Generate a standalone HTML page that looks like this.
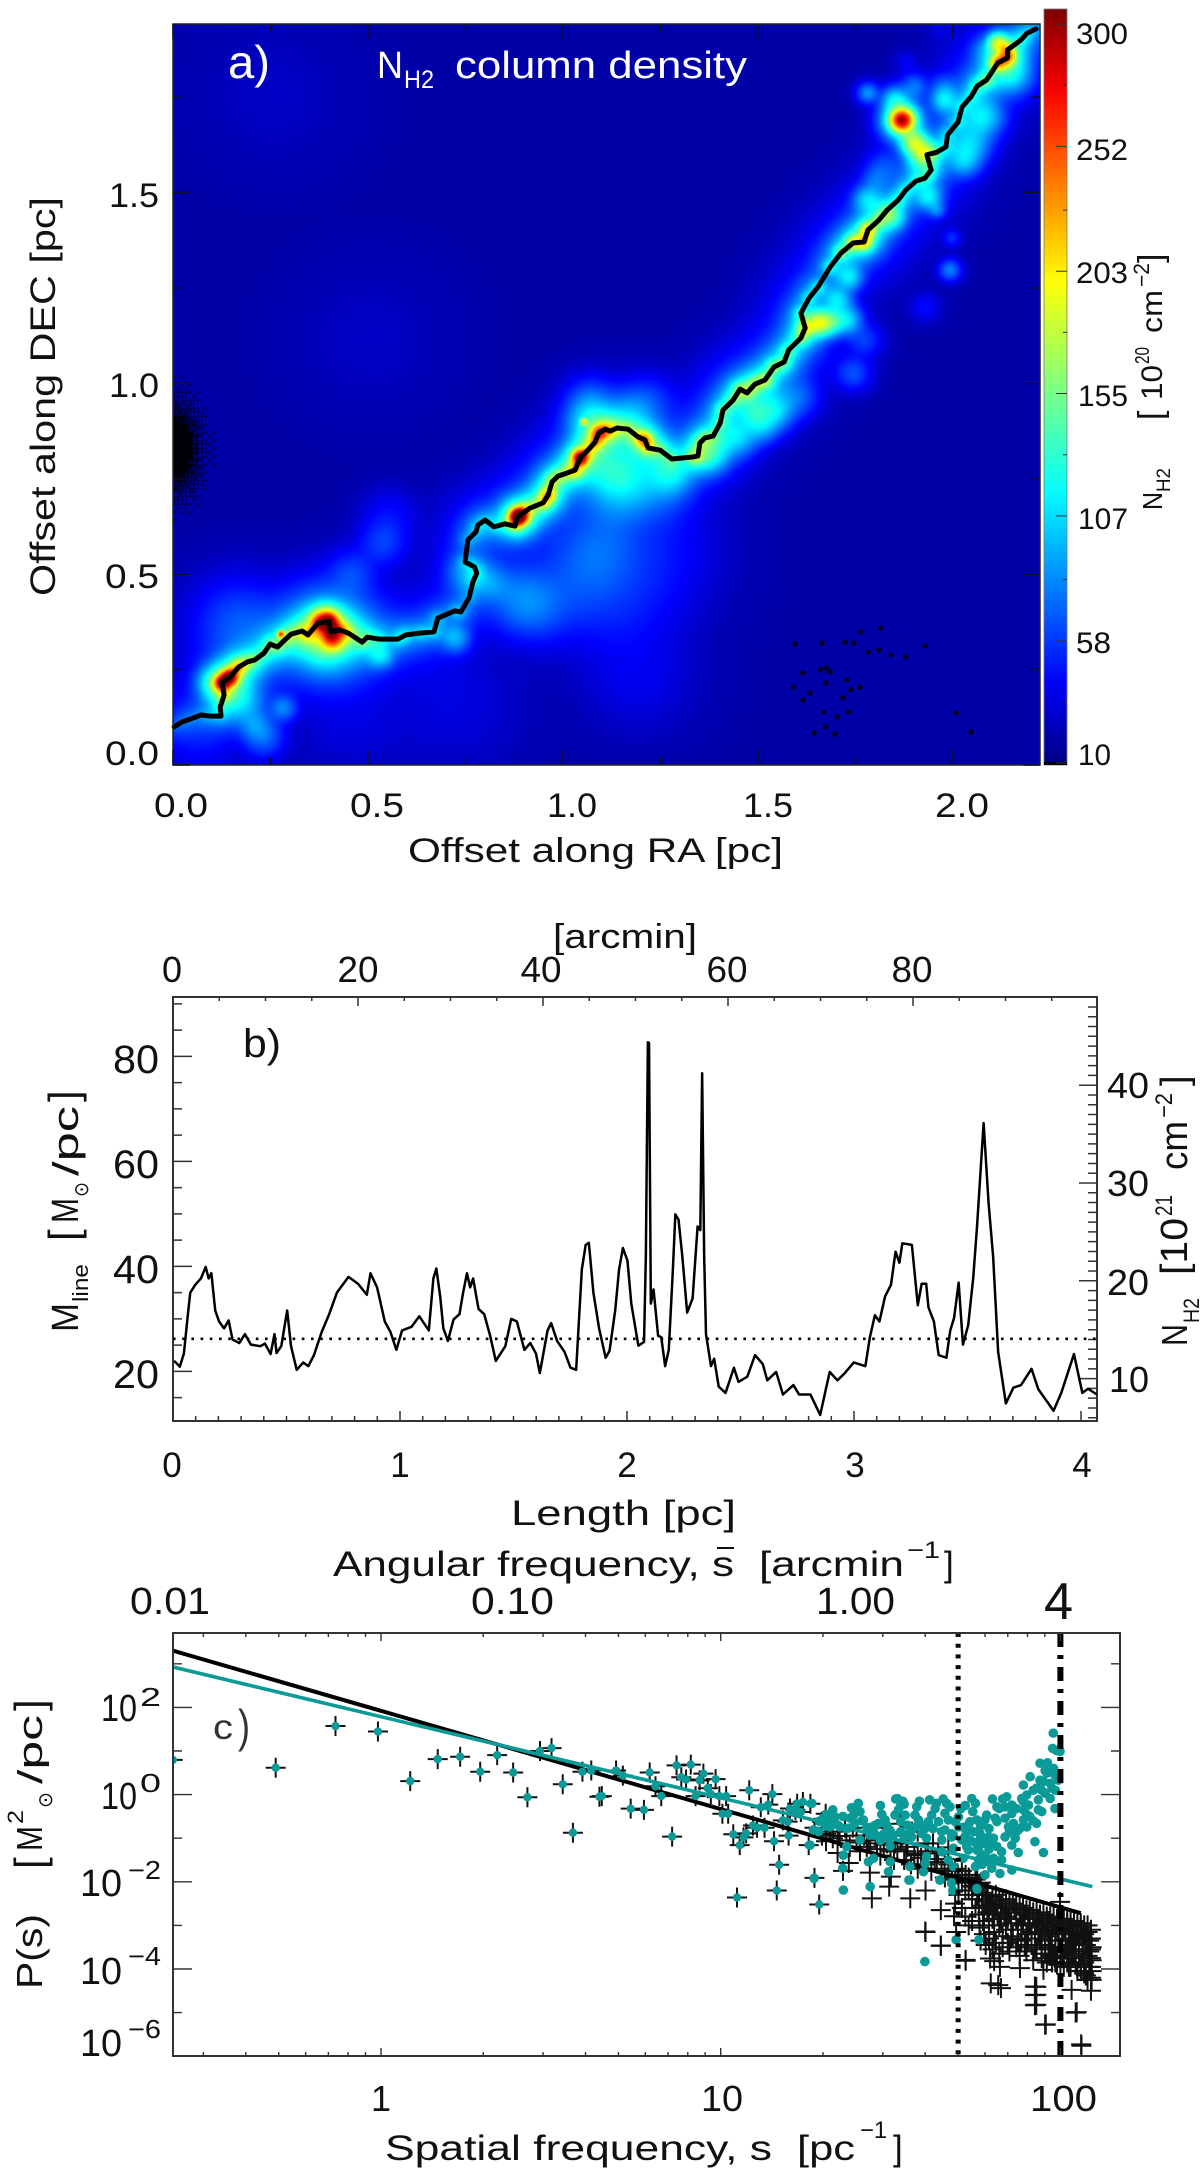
<!DOCTYPE html>
<html lang="en">
<head>
<meta charset="utf-8">
<title>Filament column density, line mass and power spectrum</title>
<style>
html,body{margin:0;padding:0;background:#fff;}
#page{position:relative;width:1200px;height:2177px;overflow:hidden;background:#fff;}
#map{position:absolute;left:173px;top:24px;width:867px;height:741px;display:block;}
#chart{position:absolute;left:0;top:0;}
text{font-family:"Liberation Sans","DejaVu Sans",sans-serif;fill:#111;}
</style>
</head>
<body>
<div id="page">
<canvas id="map" width="434" height="371"></canvas>
<svg id="chart" width="1200" height="2177" viewBox="0 0 1200 2177">
<defs>
<linearGradient id="jet" x1="0" y1="1" x2="0" y2="0">
<stop offset="0" stop-color="#00007f"/><stop offset="0.11" stop-color="#0000ff"/><stop offset="0.36" stop-color="#00ffff"/><stop offset="0.64" stop-color="#ffff00"/><stop offset="0.89" stop-color="#ff0000"/><stop offset="1" stop-color="#7f0000"/>
</linearGradient>
<clipPath id="clipC"><rect x="173" y="1633" width="947" height="423"/></clipPath>
<clipPath id="clipB"><rect x="173" y="997" width="924" height="424"/></clipPath>
</defs>

<!-- panel a text -->
<g>
<text x="228" y="78" font-size="46" fill="#fff" style="fill:#fff" textLength="42">a)</text>
<text x="377" y="78" font-size="38" style="fill:#fff" textLength="26">N</text>
<text x="404" y="88" font-size="25" style="fill:#fff" textLength="30">H2</text>
<text x="455" y="78" font-size="38" style="fill:#fff" textLength="292">column density</text>
<text x="159" y="207" font-size="34" text-anchor="end" textLength="50">1.5</text>
<text x="159" y="397" font-size="34" text-anchor="end" textLength="50">1.0</text>
<text x="159" y="588" font-size="34" text-anchor="end" textLength="54">0.5</text>
<text x="159" y="765" font-size="34" text-anchor="end" textLength="54">0.0</text>
<text x="154" y="817" font-size="34" textLength="54">0.0</text>
<text x="350" y="817" font-size="34" textLength="54">0.5</text>
<text x="547" y="817" font-size="34" textLength="50">1.0</text>
<text x="743" y="817" font-size="34" textLength="50">1.5</text>
<text x="935" y="817" font-size="34" textLength="54">2.0</text>
<text x="408" y="862" font-size="34" textLength="375">Offset along RA [pc]</text>
<text transform="translate(55,596) rotate(-90)" font-size="35" textLength="399">Offset along DEC [pc]</text>
<text x="1076" y="44" font-size="30" textLength="52">300</text>
<text x="1076" y="160" font-size="30" textLength="52">252</text>
<text x="1076" y="283" font-size="30" textLength="52">203</text>
<text x="1078" y="406" font-size="30" textLength="50">155</text>
<text x="1078" y="529" font-size="30" textLength="50">107</text>
<text x="1076" y="653" font-size="30" textLength="35">58</text>
<text x="1078" y="765" font-size="30" textLength="33">10</text>
<g>
<text transform="translate(1162,510) rotate(-90)" font-size="28" textLength="18">N</text>
<text transform="translate(1170,492) rotate(-90)" font-size="19" textLength="24">H2</text>
<text transform="translate(1162,420) rotate(-90)" font-size="34">[</text>
<text transform="translate(1162,400) rotate(-90)" font-size="30" textLength="35">10</text>
<text transform="translate(1149,364) rotate(-90)" font-size="20" textLength="17">20</text>
<text transform="translate(1162,333) rotate(-90)" font-size="30" textLength="43">cm</text>
<text transform="translate(1149,287) rotate(-90)" font-size="22" textLength="24">−2</text>
<text transform="translate(1162,263) rotate(-90)" font-size="34">]</text>
</g>
</g>

<!-- panel b text -->
<g>
<text x="243" y="1057" font-size="40" textLength="38">b)</text>
<text x="553" y="948" font-size="34" textLength="144">[arcmin]</text>
<text x="172" y="982" font-size="36" text-anchor="middle">0</text>
<text x="358" y="982" font-size="36" text-anchor="middle" textLength="41">20</text>
<text x="541" y="982" font-size="36" text-anchor="middle" textLength="41">40</text>
<text x="727" y="982" font-size="36" text-anchor="middle" textLength="41">60</text>
<text x="912" y="982" font-size="36" text-anchor="middle" textLength="41">80</text>
<text x="159" y="1073" font-size="40" text-anchor="end" textLength="46">80</text>
<text x="159" y="1178" font-size="40" text-anchor="end" textLength="46">60</text>
<text x="159" y="1283" font-size="40" text-anchor="end" textLength="46">40</text>
<text x="159" y="1388" font-size="40" text-anchor="end" textLength="46">20</text>
<text x="1107" y="1098" font-size="36" textLength="42">40</text>
<text x="1107" y="1196" font-size="36" textLength="42">30</text>
<text x="1107" y="1295" font-size="36" textLength="42">20</text>
<text x="1109" y="1392" font-size="36" textLength="40">10</text>
<text x="172" y="1477" font-size="35" text-anchor="middle">0</text>
<text x="400" y="1477" font-size="35" text-anchor="middle">1</text>
<text x="627" y="1477" font-size="35" text-anchor="middle">2</text>
<text x="855" y="1477" font-size="35" text-anchor="middle">3</text>
<text x="1082" y="1477" font-size="35" text-anchor="middle">4</text>
<text x="511" y="1525" font-size="35" textLength="225">Length [pc]</text>
<g>
<text transform="translate(78,1332) rotate(-90)" font-size="38" textLength="29">M</text>
<text transform="translate(88,1302) rotate(-90)" font-size="22" textLength="38">line</text>
<text transform="translate(78,1241) rotate(-90)" font-size="42">[</text>
<text transform="translate(78,1223) rotate(-90)" font-size="38" textLength="25">M</text>
<text transform="translate(88,1197) rotate(-90)" font-size="20" textLength="15">⊙</text>
<text transform="translate(78,1176) rotate(-90)" font-size="36" textLength="70">/pc</text>
<text transform="translate(78,1102) rotate(-90)" font-size="42">]</text>
</g>
<g>
<text transform="translate(1187,1346) rotate(-90)" font-size="36" textLength="22">N</text>
<text transform="translate(1199,1323) rotate(-90)" font-size="22" textLength="25">H2</text>
<text transform="translate(1187,1275) rotate(-90)" font-size="38" textLength="57">[10</text>
<text transform="translate(1172,1216) rotate(-90)" font-size="24" textLength="21">21</text>
<text transform="translate(1187,1170) rotate(-90)" font-size="38" textLength="49">cm</text>
<text transform="translate(1172,1118) rotate(-90)" font-size="24" textLength="25">−2</text>
<text transform="translate(1187,1086) rotate(-90)" font-size="38">]</text>
</g>
</g>

<!-- panel c text -->
<g>
<text x="333" y="1576" font-size="35" textLength="401">Angular frequency, s</text>
<line x1="717" y1="1548" x2="734" y2="1548" stroke="#111" stroke-width="2"/>
<text x="759" y="1576" font-size="35" textLength="145">[arcmin</text>
<text x="907" y="1558" font-size="24" textLength="33">−1</text>
<text x="944" y="1576" font-size="35">]</text>
<text x="130" y="1614" font-size="38" textLength="80">0.01</text>
<text x="471" y="1614" font-size="38" textLength="83">0.10</text>
<text x="816" y="1614" font-size="38" textLength="79">1.00</text>
<text x="1044" y="1619" font-size="52" textLength="29">4</text>
<text x="213" y="1739" font-size="35" style="fill:#333" textLength="20">c</text>
<text x="238" y="1742" font-size="46" style="fill:#333" textLength="12">)</text>
<g>
<text x="101" y="1721" font-size="38" textLength="36">10</text><text x="140" y="1706" font-size="26" textLength="21">2</text>
<text x="101" y="1809" font-size="38" textLength="36">10</text><text x="140" y="1792" font-size="26" textLength="21">0</text>
<text x="80" y="1896" font-size="38" textLength="42">10</text><text x="128" y="1879" font-size="26" textLength="33">−2</text>
<text x="80" y="1984" font-size="38" textLength="42">10</text><text x="128" y="1965" font-size="26" textLength="33">−4</text>
<text x="80" y="2056" font-size="38" textLength="42">10</text><text x="128" y="2038" font-size="26" textLength="33">−6</text>
</g>
<text x="381" y="2111" font-size="36" text-anchor="middle">1</text>
<text x="701" y="2111" font-size="36" textLength="42">10</text>
<text x="1030" y="2111" font-size="36" textLength="67">100</text>
<text x="385" y="2160" font-size="35" textLength="387">Spatial frequency, s</text>
<text x="797" y="2160" font-size="35" textLength="58">[pc</text>
<text x="860" y="2138" font-size="24" textLength="27">−1</text>
<text x="893" y="2160" font-size="35">]</text>
<g>
<text transform="translate(42,1989) rotate(-90)" font-size="36" textLength="75">P(s)</text>
<text transform="translate(44,1869) rotate(-90)" font-size="42">[</text>
<text transform="translate(42,1851) rotate(-90)" font-size="36" textLength="25">M</text>
<text transform="translate(23,1824) rotate(-90)" font-size="22" textLength="14">2</text>
<text transform="translate(52,1808) rotate(-90)" font-size="20" textLength="16">⊙</text>
<text transform="translate(42,1784) rotate(-90)" font-size="34" textLength="69">/pc</text>
<text transform="translate(44,1711) rotate(-90)" font-size="42">]</text>
</g>
</g>
<g id="marks"></g>
</svg>
</div>
<script>
// ---------- Panel a: filament spine and column density model (pc, 1e20 cm^-2) ----------
const filamentRA=[.003,.023,.046,.072,.096,.123,.121,.131,.126,.146,.169,.190,.209,.233,.249,.268,.287,.303,.331,.346,.372,.400,.405,.426,.449,.485,.498,.528,.577,.597,.636,.669,.679,.723,.738,.759,.769,.779,.773,.749,.756,.777,.782,.800,.823,.851,.877,.882,.890,.915,.949,.962,.972,.987,1.010,1.031,1.044,1.064,1.082,1.092,1.108,1.121,1.138,1.167,1.192,1.210,1.218,1.249,1.279,1.333,1.346,1.351,1.364,1.385,1.403,1.410,1.436,1.454,1.472,1.492,1.518,1.541,1.567,1.579,1.610,1.621,1.610,1.631,1.654,1.685,1.713,1.744,1.772,1.782,1.810,1.831,1.860,1.879,1.905,1.928,1.944,1.933,1.959,1.982,1.986,2.013,2.023,2.046,2.062,2.086,2.115,2.140,2.140,2.174,2.190,2.213];
const filamentDec=[.100,.113,.121,.131,.128,.128,.152,.183,.215,.231,.257,.270,.275,.293,.317,.309,.328,.343,.351,.341,.372,.375,.349,.354,.346,.322,.335,.330,.330,.341,.346,.349,.385,.404,.401,.438,.480,.503,.519,.532,.590,.611,.629,.642,.624,.632,.626,.647,.655,.673,.687,.708,.742,.757,.765,.773,.805,.825,.846,.870,.880,.875,.883,.880,.860,.852,.831,.825,.802,.807,.810,.844,.857,.862,.896,.930,.956,.985,.975,.998,1.009,1.043,1.056,1.088,1.119,1.145,1.184,1.224,1.253,1.305,1.342,1.368,1.371,1.402,1.428,1.454,1.481,1.507,1.530,1.538,1.559,1.599,1.606,1.620,1.651,1.685,1.724,1.751,1.779,1.795,1.840,1.853,1.874,1.900,1.918,1.929];
const filamentPeak=[70,70,75,75,85,90,110,200,300,310,240,170,150,140,150,150,160,170,175,190,240,280,250,220,190,150,140,130,125,125,125,120,110,100,95,95,100,105,100,100,100,100,100,100,100,110,150,290,310,190,220,250,200,170,170,230,310,200,230,260,210,180,170,170,200,250,210,170,150,170,175,150,150,150,160,175,175,185,190,200,215,190,170,170,190,225,150,140,140,150,190,225,245,245,190,170,150,130,130,140,140,170,120,110,120,130,130,130,150,190,260,250,230,130,110,95];
const blobRA=[.172,.282,.233,.210,.164,.105,.276,.390,.403,.410,.390,.459,.538,.556,.723,.531,.749,.813,.882,.931,1.087,1.121,1.172,1.274,1.377,1.446,1.538,1.487,1.600,1.249,1.128,1.069,1.069,1.054,1.223,1.172,1.654,1.685,1.703,1.733,1.841,1.938,1.959,1.997,1.992,1.928,1.744,1.772,1.728,1.508,1.869,1.869,1.900,1.928,1.851,1.782,1.900,1.977,1.977,1.879,1.964,2.077,2.046,2.028,2.115,2.077,1.800,1.782,1.821,1.910,2.151,.262,.505,.710,1.192,.454,1.223,1.146,1.028,.069];
const blobDec=[.170,.149,.073,.105,.372,.215,.343,.328,.341,.328,.380,.503,.582,.650,.333,.288,.498,.477,.440,.414,.563,.773,.747,.765,.818,.860,.930,.922,.964,.713,.687,.904,.956,.899,.956,.917,1.158,1.161,1.219,1.279,1.436,1.488,1.454,1.381,1.297,1.200,1.027,1.114,1.166,.886,1.690,1.690,1.630,1.604,1.743,1.761,1.777,1.777,1.743,1.840,1.926,1.698,1.630,1.585,1.892,1.874,1.533,1.481,1.567,1.578,1.808,1.756,1.115,.170,.231,.118,.563,.432,.477,.066];
const blobAmp=[80,60,50,55,45,80,220,110,80,170,170,40,40,25,70,80,50,55,50,45,45,85,70,85,95,80,90,80,50,40,45,80,45,170,35,60,150,110,85,85,100,85,55,35,60,25,45,40,85,65,250,130,150,120,85,65,55,45,85,20,15,85,75,75,150,45,45,80,40,70,80,8,8,15,18,15,28,28,38,22];
const blobWidth=[.036,.021,.031,.026,.065,.026,.008,.042,.073,.018,.021,.036,.036,.039,.023,.021,.031,.031,.052,.052,.065,.047,.052,.036,.031,.031,.031,.026,.031,.052,.057,.036,.036,.008,.039,.039,.021,.021,.023,.021,.021,.021,.013,.013,.016,.021,.026,.026,.023,.026,.018,.031,.021,.021,.021,.016,.021,.021,.021,.016,.016,.031,.031,.026,.016,.021,.021,.023,.026,.021,.031,.104,.104,.104,.078,.078,.091,.091,.078,.052];
const blobSoftening=1.4;
const speckRA=[.008];
const speckDec=[.83];
const speckWidthRA=[.04];
const speckWidthDec=[.075];
const speckDensity=[1.5];
const noiseRA=[1.595,1.674,1.659,1.685,1.728,1.762,1.738,1.782,1.615,1.674,1.633,1.59,1.669,1.674,1.644,1.697,1.718,1.723,1.746,1.81,1.928,1.762,1.815,1.664,1.703,1.733,1.615,1.879,1.841,2.046,2.008];
const noiseDec=[.317,.254,.249,.244,.223,.204,.197,.296,.241,.215,.189,.204,.139,.1,.084,.081,.176,.322,.32,.301,.312,.349,.359,.32,.126,.139,.17,.283,.288,.086,.136];
const backgroundLevel=20;

// ---------- Panel a ticks ----------
const mapXMajor=[0,.5,1,1.5,2];
const mapXMinor=[.25,.75,1.25,1.75];
const mapYMajor=[0,.5,1,1.5];
const mapYMinor=[.25,.75,1.25,1.75];
const colorbarMajor=[10,58,107,155,203,252,300];
const colorbarMinor=[34,82,131,179,227,276];

// ---------- Panel b: line mass profile ----------
const lengthPc=[.005,.03,.048,.064,.076,.098,.123,.144,.157,.169,.186,.203,.225,.245,.262,.292,.317,.343,.385,.405,.43,.447,.456,.477,.503,.52,.545,.574,.596,.621,.655,.688,.722,.773,.815,.854,.87,.899,.933,.958,.984,1.009,1.051,1.085,1.127,1.147,1.16,1.177,1.191,1.211,1.236,1.262,1.278,1.295,1.309,1.322,1.346,1.371,1.397,1.422,1.464,1.49,1.515,1.548,1.574,1.599,1.616,1.65,1.666,1.692,1.725,1.751,1.776,1.801,1.818,1.832,1.852,1.877,1.906,1.923,1.948,1.965,1.982,2.002,2.019,2.05,2.075,2.083,2.092,2.097,2.105,2.117,2.137,2.151,2.168,2.184,2.201,2.213,2.227,2.244,2.265,2.289,2.311,2.323,2.331,2.34,2.348,2.37,2.384,2.404,2.434,2.471,2.491,2.53,2.564,2.598,2.618,2.657,2.687,2.733,2.758,2.808,2.851,2.876,2.893,2.927,2.96,2.999,3.05,3.07,3.092,3.112,3.137,3.163,3.183,3.2,3.213,3.255,3.281,3.298,3.318,3.328,3.352,3.373,3.407,3.424,3.441,3.461,3.48,3.503,3.525,3.542,3.571,3.593,3.613,3.635,3.669,3.702,3.736,3.782,3.812,3.879,3.913,3.969,4.006,4.031,4.07];
const massLine=[22,20.9,23.4,30.2,35,36.5,37.7,39.9,37.7,38.7,31.6,29.5,28.2,29.7,26.1,25.4,27.1,25.1,24.8,25.3,23.3,27.1,23.5,24.8,31.6,24.8,20.3,21.7,21,23.1,27.5,30.9,35,38,36.7,34.6,38.7,36,29.5,27.5,24.1,27.8,28.5,30.5,27.8,37.7,39.6,34.3,28.2,25.8,29.9,30.9,35,38.7,36,37.7,31.9,30.9,26.8,22,24.8,30,29.5,24.1,25.4,23.4,19.7,27.8,29.2,25.8,23.7,20.7,20.3,39.4,44.1,44.5,35,28.2,22.6,23.9,31.6,39.4,43.5,41.1,32.9,24.9,25.6,41.8,82.7,82.6,32.9,35.6,26.8,26.5,21,24.1,38.4,49.9,48.9,41.8,31.2,33.9,47.6,46.9,76.8,41.8,27.1,21,22.4,17.1,15.9,20.7,18,19,23.1,21.4,18.3,19.9,15.6,17.4,15.6,15.6,11.7,16.6,19.9,18.3,19.7,21.7,21,26.5,30.7,29.5,34.3,36.5,42.8,40.7,44.4,44.1,32.6,36.7,36.7,32.2,29.5,23.1,22.6,27.8,30.2,36.9,25.1,28.8,37.7,47.6,67.3,52,41.8,23.7,13.9,16.9,17.4,20.5,16.6,12.5,15.9,23.3,15.9,16.7,15.6];
const criticalMass=[26.2];

// ---------- Panel c: power spectrum (log10 s, log10 P) ----------
const sharedLogS=[-.613,-.31,-.134,-.009,.086,.167,.233,.292,.342,.389,.431,.468,.502,.535,.565,.593,.619,.643,.65,.692,.712,.735,.774,.791,.808,.825,.857,.870,.884,.898,.912,.926,.938,.949,.962,.971,.985,.996,1.016,1.005,1.022,1.037,1.048,1.056,1.067,1.075,1.084,1.095,1.107,1.118,1.129,1.14,1.152,1.157,1.165,1.172,1.183,1.197,1.2,1.204,1.22,1.225,1.236,1.242,1.259,1.264,1.276,1.29,1.298,1.309];
const sharedLogP=[.796,.616,1.572,1.446,.309,.814,.868,.525,.905,.507,-.061,1.0,1.067,.237,-.874,.525,.553,-.05,-.034,.552,.435,-.323,-.35,.507,.191,-.034,-.964,.67,.399,.345,.688,-.034,.327,.48,.146,.011,.354,-.034,-.034,-.44,-.44,-.91,-2.36,-1.16,-.98,-.89,.10,-.71,-.76,-.29,-.76,-.23,.01,-1.07,-2.2,-1.61,-.59,-.62,-.94,-.32,-.35,-.21,-.4,-.17,-1.16,-.21,-1.91,-2.52,-.62,-.44];
const crossLogS=[1.31,1.344,1.36,1.377,1.439,1.445,1.496,1.501,1.558,1.603,1.648,1.687,1.693,1.603,1.648,1.721,1.817,1.805,1.929,1.929,1.929,1.957,2.048,2.062,1.276,1.298,1.321,1.344,1.366,1.389,1.40,1.422,1.434,1.456,1.479,1.49,1.513,1.529,1.535,1.546,1.563,1.58,1.58,1.603,1.625,1.636,1.659,1.67,1.681,1.698,1.71,1.721,1.732,1.743,1.755,1.766,1.72,1.73,1.74,1.71,1.72,1.69,1.70,1.75,1.75,1.74,1.73,1.76,1.602,1.648,1.721,1.795,1.825,1.925,1.925,1.925,1.955,2.045,2.061,2.033,2.09,1.793,1.822,1.881,1.95,1.999,1.76,1.76,1.762,1.765,1.77,1.772,1.775,1.78,1.78,1.785,1.79,1.79,1.795,1.80,1.80,1.805,1.81,1.81,1.815,1.82,1.82,1.825,1.83,1.83,1.835,1.84,1.84,1.845,1.85,1.85,1.855,1.86,1.865,1.87,1.87,1.875,1.88,1.88,1.885,1.89,1.895,1.90,1.90,1.905,1.91,1.915,1.92,1.92,1.925,1.93,1.93,1.935,1.94,1.945,1.945,1.95,1.955,1.955,1.96,1.965,1.965,1.97,1.975,1.975,1.98,1.985,1.985,1.99,1.99,1.995,2.0,2.0,2.005,2.005,2.01,2.01,2.015,2.02,2.02,2.025,2.025,2.03,2.03,2.035,2.04,2.04,2.045,2.045,2.05,2.05,2.055,2.055,2.06,2.06,2.065,2.065,2.07,2.07,2.075,2.075,2.08,2.08,2.085,2.085,2.09,2.09,2.09,2.092,2.092,2.092,2.092];
const crossLogP=[-1.07,-1.34,-1.75,-1.57,-1.79,-2.38,-2.11,-1.88,-2.38,-2.2,-2.65,-2.79,-3.15,-3.15,-3.46,-3.81,-4.37,-3.82,-4.41,-4.82,-4.59,-5.27,-4.99,-5.76,-.76,-.94,-.85,-.85,-.76,-.76,-.94,-.94,-1.12,-.94,-.76,-1.12,-1.12,-.67,-.94,-1.3,-.85,-.85,-1.39,-1.12,-1.12,-1.48,-1.48,-1.21,-1.75,-1.84,-2.02,-1.84,-1.93,-2.11,-1.84,-2.02,-2.0,-2.2,-2.4,-2.6,-2.8,-2.5,-2.3,-2.1,-2.6,-2.9,-3.0,-2.2,-3.14,-3.47,-3.79,-4.33,-4.44,-4.4,-4.6,-4.83,-5.28,-5.0,-5.73,-4.48,-4.5,-3.76,-3.95,-3.98,-4.02,-2.46,-2.40,-2.75,-3.05,-3.35,-2.55,-2.9,-3.2,-2.45,-3.45,-2.7,-3.0,-3.3,-2.5,-2.85,-3.55,-3.15,-2.55,-3.4,-2.75,-3.0,-3.65,-2.6,-3.25,-3.5,-2.8,-2.6,-3.1,-3.4,-2.7,-3.6,-2.95,-3.25,-2.65,-3.5,-2.85,-3.1,-2.7,-3.7,-3.35,-2.95,-2.75,-3.2,-3.6,-2.85,-3.0,-3.45,-2.8,-3.8,-3.15,-2.95,-3.55,-2.85,-3.3,-3.05,-3.75,-2.9,-3.45,-3.2,-3.0,-3.65,-2.9,-3.35,-3.1,-3.85,-2.95,-3.5,-3.2,-3.0,-3.7,-3.35,-2.95,-3.9,-3.15,-3.55,-3.05,-3.75,-3.3,-2.95,-3.6,-3.2,-3.95,-3.0,-3.45,-3.7,-3.1,-3.3,-3.9,-3.55,-2.95,-3.2,-3.75,-3.4,-3.05,-4.05,-3.6,-3.25,-3.85,-3.0,-3.45,-4.15,-3.15,-3.7,-3.95,-3.35,-3.55,-4.2,-3.1,-3.8,-4.05,-3.5,-4.25];
const crossMidLogS=[1.31,1.33,1.35,1.37,1.38,1.40,1.41,1.43,1.44,1.46,1.47,1.48,1.50,1.51,1.52,1.53,1.54,1.55,1.56,1.57,1.58,1.59,1.60,1.61,1.62,1.63,1.64,1.65,1.66,1.67,1.68,1.69,1.70,1.71,1.72,1.73,1.74,1.75,1.755,1.76];
const crossMidLogP=[-.9,-1.0,-.95,-1.05,-1.2,-1.1,-1.3,-1.2,-1.05,-1.25,-1.4,-1.15,-1.3,-1.5,-1.25,-1.1,-1.5,-1.2,-1.6,-1.35,-1.7,-1.45,-1.6,-1.3,-1.75,-1.55,-1.35,-1.7,-1.9,-1.6,-1.95,-1.7,-2.0,-1.75,-2.2,-1.9,-2.1,-1.95,-2.3,-2.05];
const crossTailLogS=[1.76,1.77,1.775,1.785,1.79,1.80,1.805,1.81,1.82,1.825,1.83,1.84,1.845,1.85,1.855,1.86,1.87,1.875,1.88,1.885,1.89,1.895,1.90,1.905,1.91,1.915,1.92,1.925,1.93,1.935,1.94,1.945,1.95,1.955,1.96,1.965,1.97,1.975,1.98,1.985,1.99,1.995,2.0,2.005,2.01,2.015,2.02,2.025,2.03,2.035,2.04,2.045,2.05,2.055,2.06,2.065,2.07,2.075,2.08,2.085,2.09,2.09,2.09,2.08,2.07,2.06,2.05,2.04,2.03,2.02,2.01,2.0,1.99,1.98,1.97,1.96];
const crossTailLogP=[-2.15,-2.25,-2.75,-2.3,-2.55,-2.35,-2.7,-2.3,-2.4,-2.85,-2.45,-2.4,-2.85,-2.5,-3.3,-2.5,-2.55,-3.35,-2.55,-3.0,-2.6,-3.45,-2.65,-3.3,-2.65,-3.15,-2.7,-3.5,-2.7,-3.2,-2.75,-3.45,-2.75,-3.65,-2.8,-3.25,-2.8,-3.55,-2.8,-3.85,-2.85,-3.15,-2.85,-3.75,-2.85,-3.55,-2.9,-3.45,-2.9,-3.2,-2.9,-3.35,-3.05,-3.6,-2.95,-3.45,-3.2,-3.3,-3.0,-3.6,-3.3,-3.75,-3.95,-4.25,-4.1,-3.9,-4.05,-3.65,-3.95,-3.85,-3.95,-3.6,-3.9,-3.7,-3.7,-3.85];
const dotLogS=[1.268,1.302,1.317,1.33,1.337,1.351,1.322,1.288,1.273,1.263,1.376,1.391,1.40,1.41,1.381,1.42,1.445,1.464,1.474,1.484,1.44,1.41,1.361,1.371,1.359,1.275,1.361,1.435,1.45,1.44,1.499,1.494,1.508,1.52,1.536,1.523,1.543,1.513,1.552,1.562,1.577,1.572,1.582,1.592,1.606,1.631,1.621,1.611,1.641,1.616,1.665,1.66,1.67,1.66,1.651,1.68,1.707,1.70,1.70,1.685,1.739,1.742,1.734,1.724,1.754,1.773,1.783,1.778,1.744,1.763,1.788,1.813,1.808,1.813,1.842,1.857,1.837,1.837,1.857,1.862,1.847,1.862,1.837,1.891,1.891,1.901,1.881,1.867,1.857,1.911,1.891,1.92,1.901,1.886,1.906,1.935,1.945,1.93,1.925,1.95,1.876,1.94,1.962,1.96,1.94,1.97,1.984,1.994,1.955,1.935,1.97,1.984,1.979,1.977,1.989,1.999,1.724,1.729,1.71,1.754,1.778,1.773,1.803,1.813,1.827,1.827,1.803,1.798,1.759,1.778,1.822,1.857,1.685,1.714,1.651,1.606,1.602,1.685,1.67,1.646,1.68,1.754,1.557,1.597,1.499,1.494,1.557,1.693,1.76,1.601,1.554,1.645,1.68,1.683,1.755];
const dotLogP=[-.20,-.54,-.47,-.35,-.51,-.74,-.74,-.85,-.81,-1.16,-.77,-.47,-.29,-.39,-.54,-.58,-.74,-.66,-.45,-.58,-.93,-1.04,-1.39,-1.19,-1.69,-1.92,-2.19,-1.54,-1.46,-2.11,-1.18,-1.0,-.93,-.09,-.15,-.35,-.47,-.47,-.93,-.97,-.28,-.47,-.58,-.89,-1.0,-.32,-.47,-.62,-.62,-.74,-.20,-.43,-.58,-.81,-1.04,-.97,-.32,-.51,-.74,-.93,-.09,-.39,-.62,-.81,-.58,-.62,-.47,-.58,-.85,-.89,-.97,-.28,-.54,-.62,-.05,-.24,-.28,-.54,-.43,-.66,-.74,-.89,-.97,-.35,-.58,-.74,-.77,-1.0,-1.16,.41,.22,.10,-.01,-.09,-.24,-.35,-.39,-.66,-1.08,-1.33,-1.33,.72,.73,.49,.33,.26,.45,.33,.03,-.12,-.09,-.32,1.41,1.06,1.01,.99,-1.19,-1.27,-1.04,-1.27,-1.39,-1.12,-1.0,-1.19,-1.31,-1.50,-1.46,-1.69,-1.50,-1.84,-1.81,-1.73,-1.23,-1.46,-1.31,-1.42,-1.58,-1.65,-1.50,-1.96,-2.04,-2.15,-1.96,-1.77,-1.54,-1.77,-1.65,-3.33,-3.33,-3.83,-1.96,-1.96,-2.02,-2.2,-2.17];
const dotExtraLogS=[1.29,1.31,1.325,1.345,1.36,1.37,1.385,1.395,1.405,1.415,1.43,1.455,1.47,1.49,1.45,1.46,1.47,1.48,1.5,1.515,1.53,1.53,1.54,1.55,1.56,1.53,1.54,1.57,1.585,1.595,1.60,1.615,1.625,1.635,1.65,1.655,1.675,1.68,1.69,1.715,1.72,1.73,1.75,1.765,1.79,1.80,1.82,1.83,1.85,1.87,1.875,1.89,1.90,1.91,1.92,1.93,1.945,1.95,1.955,1.975,1.98,1.985,1.72,1.735,1.75,1.765,1.785,1.79,1.80,1.76,1.77,1.75,1.79];
const dotExtraLogP=[-.61,-.72,-.6,-.7,-.5,-.78,-.3,-.66,-.2,-.6,-.75,-.7,-.25,-.72,-.85,-.95,-1.05,-.9,-.85,-.1,-.25,-.62,-.22,-.7,-.82,-.85,-.95,-.75,-.15,-.72,-.78,-.12,-.78,-.2,-.85,-.1,-.28,-.9,-.62,-.75,-.25,-.68,-.2,-.72,-.78,-.1,-.32,-.1,-.85,-.32,-.82,-.15,-.45,-.5,-.6,.15,.1,.3,.55,.15,.6,.1,-.95,-1.05,-1.1,-.95,-1.1,-1.25,-1.15,-1.3,-1.6,-1.65,-1.55];
const fitLogS=[-.612,2.06];
const fitBlackLogP=[3.30,-2.72];
const fitTealLogS=[-.612,2.094];
const fitTealLogP=[2.926,-2.11];
const beamLimitS=[50];
const resolutionS=[100];
const powerMajorLog=[-6,-4,-2,0,2];
const powerMinorLog=[-5,-3,-1,1,3];
const freqDecades=[-1,0,1,2];
const freqMultipliers=[2,3,4,5,6,7,8,9];

// ---------- Axis functions ----------
const xA=v=>173+390*v, yA=v=>765-381.6*v;
const yCbar=v=>763-(v-10)*2.548;
const xB=v=>173+227*v, yB=v=>1371.4-5.25*(v-20);
const xTopB=v=>173+9.25*v, yRightB=v=>1378.6-9.78*(v-10);
const xC=v=>381+339.7*v, yC=v=>1794.6-43.6*v;

document.querySelectorAll('text[textLength]').forEach(function(t){t.setAttribute('lengthAdjust','spacingAndGlyphs');});

const NS='http://www.w3.org/2000/svg';
const marks=document.getElementById('marks');
function make(tag,attrs,parent){
  const el=document.createElementNS(NS,tag);
  for(const k in attrs) el.setAttribute(k,attrs[k]);
  (parent||marks).appendChild(el);
  return el;
}
function hTicks(vals,fy,len,x0,x1){return vals.map(v=>`M${x0} ${fy(v)}h${len}M${x1} ${fy(v)}h${-len}`).join('');}
function vTicks(vals,fx,len,y0,y1){return vals.map(v=>`M${fx(v)} ${y0}v${-len}M${fx(v)} ${y1}v${len}`).join('');}
function seq(a,b,st){const r=[];for(let i=0;Math.round((a+i*st)*1000)/1000<=b;i++)r.push(Math.round((a+i*st)*1000)/1000);return r;}

// ---------- Panel a heatmap ----------
(function(){
  const cv=document.getElementById('map'),ctx=cv.getContext('2d');
  const w=cv.width,h=cv.height,img=ctx.createImageData(w,h);
  const cx=[],cy=[],ca=[],cs=[];
  filamentRA.forEach((ra,i)=>{
    const pk=filamentPeak[i],amp=pk-backgroundLevel;
    cx.push(ra);cy.push(filamentDec[i]);ca.push(amp*(.6+.3*Math.max(0,(pk-200)/110)));cs.push(.019);
    cx.push(ra);cy.push(filamentDec[i]);ca.push(pk*.3);cs.push(.042);
    cx.push(ra);cy.push(filamentDec[i]);ca.push(Math.min(20,pk*.12));cs.push(.085);
  });
  blobRA.forEach((ra,i)=>{
    cx.push(ra);cy.push(blobDec[i]);ca.push(blobAmp[i]);
    cs.push(blobWidth[i]<.012?blobWidth[i]:blobWidth[i]*blobSoftening);
  });
  const n=cx.length,inv=cs.map(s=>1/(s*s)),lim=cs.map(s=>12*s*s);
  function jet(t){
    const c=(a,b,x)=>Math.max(0,Math.min(1,(x-a)/(b-a)));
    const r=c(.36,.64,t)-c(.89,1.12,t);
    const g=c(.11,.36,t)-c(.64,.89,t);
    const b=Math.min(1,.5+t/.11*.5)-c(.36,.64,t);
    return [255*Math.max(r,0),255*Math.max(g,0),255*Math.max(b,0)];
  }
  const bayer=[[0,8,2,10],[12,4,14,6],[3,11,1,9],[15,7,13,5]];
  const kx=867/w,ky=741/h;
  for(let j=0;j<h;j++){
    const dec=(741-(j+.5)*ky)/381.6;
    for(let i=0;i<w;i++){
      const ra=(i+.5)*kx/390;
      let sum=0;
      for(let c=0;c<n;c++){
        const dx=ra-cx[c],dy=dec-cy[c],d=dx*dx+dy*dy;
        if(d>lim[c])continue;
        sum+=ca[c]*ca[c]*Math.exp(-d*inv[c]);
      }
      const F=backgroundLevel+Math.sqrt(sum);
      const t=Math.min(1,Math.max(0,(F-10)/296));
      let col=jet(t);
      for(let p=0;p<speckRA.length;p++){
        const ax=(ra-speckRA[p])/speckWidthRA[p],ay=(dec-speckDec[p])/speckWidthDec[p];
        const dens=speckDensity[p]*Math.exp(-.5*(ax*ax+ay*ay));
        if(dens>.06&&dens>(bayer[j&3][i&3]+.5)/16*.95+.03)col=[0,0,10];
      }
      const o=(j*w+i)*4;
      img.data[o]=col[0];img.data[o+1]=col[1];img.data[o+2]=col[2];img.data[o+3]=255;
    }
  }
  ctx.putImageData(img,0,0);
})();

// Panel a overlays
noiseRA.forEach(function(v,i){
  const speck=make('circle',{cx:xA(v),cy:yA(noiseDec[i]),r:2.8,fill:'#000028'});
  
  
});
const filamentLine=make('polyline',{points:filamentRA.map((v,i)=>xA(v)+','+yA(filamentDec[i])).join(' '),fill:'none',stroke:'#000','stroke-width':5,'stroke-linejoin':'round','stroke-linecap':'round'});


const mapFrame=make('rect',{x:173,y:24,width:867,height:741,fill:'none',stroke:'#222','stroke-width':1.5});


const mapTicks=make('path',{d:hTicks(mapYMajor,yA,17,173,1040)+hTicks(mapYMinor,yA,9,173,1040)+vTicks(mapXMajor,xA,15,765,24)+vTicks(mapXMinor,xA,8,765,24),stroke:'#112',fill:'none','stroke-width':1.4});


const cbar=make('rect',{x:1044,y:9,width:23,height:756,fill:'url(#jet)',stroke:'#777','stroke-width':.8});


const cbarBase=make('rect',{x:1044,y:762,width:23,height:3,fill:'#000'});


const cbarTicks=make('path',{d:colorbarMajor.map(v=>`M1067 ${yCbar(v)}h-11`).join('')+colorbarMinor.map(v=>`M1067 ${yCbar(v)}h-4`).join(''),stroke:'#333',fill:'none','stroke-width':1});



// ---------- Panel b ----------
const bFrame=make('rect',{x:173,y:997,width:924,height:424,fill:'none',stroke:'#333','stroke-width':2});


const bTickPath=[
  seq(15,90,5).map(v=>`M173 ${yB(v)}h${v%20===0?19:9}`).join(''),
  seq(6,48,1).map(v=>`M1097 ${yRightB(v)}h${v%10===0?-18:-9}`).join(''),
  seq(0,4,.1).map(v=>`M${xB(v)} 1421v${Math.abs(v-Math.round(v))<.001?-10:-5}`).join(''),
  seq(0,95,5).map(v=>`M${xTopB(v)} 997v${v%20===0?9:4}`).join('')
].join('');
const bTicks=make('path',{d:bTickPath,stroke:'#333',fill:'none','stroke-width':1.5});


const criticalLine=make('line',{x1:173,x2:1097,y1:yB(criticalMass[0]),y2:yB(criticalMass[0]),stroke:'#000','stroke-width':2.6,'stroke-dasharray':'2.6 6.6'});


const massCurve=make('polyline',{points:lengthPc.map((v,i)=>xB(v)+','+yB(massLine[i])).join(' '),fill:'none',stroke:'#000','stroke-width':2.5,'stroke-linejoin':'round','clip-path':'url(#clipB)'});



// ---------- Panel c ----------
const cClip=make('g',{'clip-path':'url(#clipC)'});


function addCross(ls,lp){
  const x=xC(ls),y=yC(lp);
  const el=make('path',{d:`M${x-10} ${y}h20M${x} ${y-10}v20`,stroke:'#111',fill:'none','stroke-width':2},cClip);
  
  
}
function addDot(ls,lp,r){
  const el=make('circle',{cx:xC(ls),cy:yC(lp),r:r,fill:'#0a9a98'},cClip);
  
  
}
sharedLogS.forEach((v,i)=>addCross(v,sharedLogP[i]));
crossLogS.forEach((v,i)=>addCross(v,crossLogP[i]));
crossMidLogS.forEach((v,i)=>addCross(v,crossMidLogP[i]));
crossTailLogS.forEach((v,i)=>addCross(v,crossTailLogP[i]));
const fitBlack=make('line',{x1:xC(fitLogS[0]),y1:yC(fitBlackLogP[0]),x2:xC(fitLogS[1]),y2:yC(fitBlackLogP[1]),stroke:'#000','stroke-width':4},cClip);


sharedLogS.forEach((v,i)=>addDot(v,sharedLogP[i],4.2));
dotLogS.forEach((v,i)=>addDot(v,dotLogP[i],4.8));
dotExtraLogS.forEach((v,i)=>addDot(v,dotExtraLogP[i],4.8));
const fitTeal=make('line',{x1:xC(fitTealLogS[0]),y1:yC(fitTealLogP[0]),x2:xC(fitTealLogS[1]),y2:yC(fitTealLogP[1]),stroke:'#0a9a98','stroke-width':3.6},cClip);


const beamLine=make('line',{x1:xC(Math.log10(beamLimitS[0])),x2:xC(Math.log10(beamLimitS[0])),y1:1633,y2:2056,stroke:'#000','stroke-width':5,'stroke-dasharray':'4 6.7'},cClip);


const resLine=make('line',{x1:xC(Math.log10(resolutionS[0])),x2:xC(Math.log10(resolutionS[0])),y1:1633,y2:2056,stroke:'#000','stroke-width':6,'stroke-dasharray':'14 8 4 8'},cClip);


const cFrame=make('rect',{x:173,y:1633,width:947,height:423,fill:'none',stroke:'#333','stroke-width':2});


let cTickD=hTicks(powerMajorLog,yC,19,173,1120)+hTicks(powerMinorLog,yC,9,173,1120);
freqDecades.forEach(d=>{
  if(d>=0)cTickD+=`M${xC(d)} 2056v-8M${xC(d)} 1633v8`;
  freqMultipliers.forEach(m=>{
    const l=d+Math.log10(m);
    if(xC(l)>173&&xC(l)<1120)cTickD+=`M${xC(l)} 2056v-4`;
    if(xC(l)>173&&xC(l)<1120)cTickD+=`M${xC(l)} 1633v4`;
  });
});
const cTicks=make('path',{d:cTickD,stroke:'#333',fill:'none','stroke-width':1.4});


</script>
</body>
</html>
